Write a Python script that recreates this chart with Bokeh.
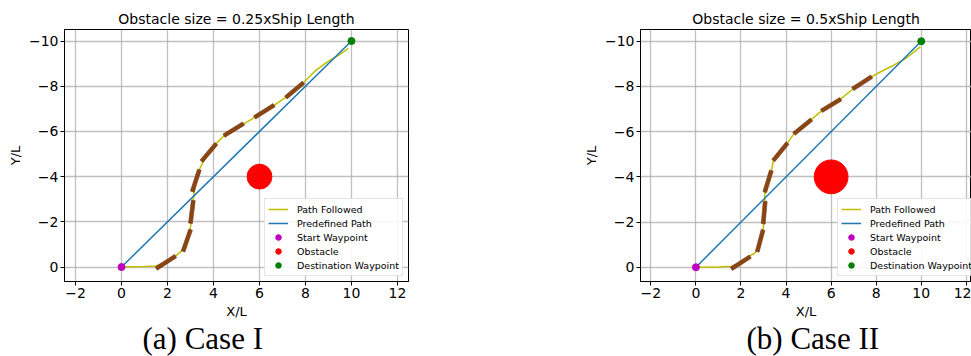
from bokeh.plotting import figure
from bokeh.models import Range1d, FixedTicker, Legend, LegendItem, Title
from bokeh.layouts import row
from bokeh.embed import file_html
from bokeh.resources import INLINE

# ---------------- data ----------------
titles = ["Obstacle size = 0.25xShip Length", "Obstacle size = 0.5xShip Length"]
captions = ["(a) Case I", "(b) Case II"]

x_ticks = [-2, 0, 2, 4, 6, 8, 10, 12]
y_ticks = [0, -2, -4, -6, -8, -10]

start_wp = (0.0, 0.0)
dest_wp = (10.0, -10.0)
obstacle_xy = (6.0, -4.0)
obstacle_radius = [0.54, 0.75]

# predefined path (straight line start -> destination)
pre_x = [0.0, 10.0]
pre_y = [0.0, -10.0]

# Case I : path followed
path1_x = [0, 0.5, 1.0, 1.5, 1.93, 2.35, 2.62, 2.84, 2.98, 3.05, 3.08, 3.12, 3.23, 3.4,
           3.6, 3.8, 4.1, 4.45, 4.88, 5.35, 5.8, 6.21, 6.65, 7.1, 7.53, 7.95, 8.45, 8.95,
           9.45, 9.86]
path1_y = [0, -0.01, -0.02, -0.05, -0.21, -0.48, -0.72, -1.17, -1.65, -2.1, -2.6, -3.0,
           -3.82, -4.35, -4.75, -5.07, -5.45, -5.8, -6.08, -6.36, -6.62, -6.89, -7.16,
           -7.48, -7.83, -8.2, -8.7, -9.08, -9.38, -9.67]
# Case I : ship snapshots (centre, heading in degrees)
ship1_x = [1.93, 2.84, 3.06, 3.23, 3.80, 4.88, 6.21, 7.53]
ship1_y = [-0.21, -1.17, -2.44, -3.82, -5.07, -6.08, -6.89, -7.83]
ship1_heading = [-33, -71, -83, -72, -50, -32, -32, -40]

# Case II : path followed
path2_x = [0, 0.5, 1.0, 1.3, 1.6, 1.99, 2.4, 2.6, 2.73, 2.85, 2.97, 3.01, 3.03, 3.06, 3.06,
           3.2, 3.35, 3.44, 3.75, 4.06, 4.35, 4.74, 5.12, 5.6, 6.0, 6.39, 6.98, 7.38, 7.79,
           8.2, 8.78, 9.37, 9.96]
path2_y = [0, 0, -0.01, -0.03, -0.05, -0.22, -0.5, -0.62, -0.75, -1.17, -1.62, -1.92,
           -2.42, -2.92, -3.32, -3.8, -4.28, -4.73, -5.11, -5.49, -5.91, -6.22, -6.53,
           -6.94, -7.18, -7.42, -7.9, -8.16, -8.42, -8.65, -8.94, -9.28, -9.75]
# Case II : ship snapshots
ship2_x = [1.99, 2.85, 3.03, 3.20, 3.75, 4.74, 6.0, 7.38]
ship2_y = [-0.20, -1.17, -2.42, -3.80, -5.11, -6.22, -7.18, -8.16]
ship2_heading = [-33, -75, -85, -73, -51, -39, -31, -33]

ship_length = 1.0
ship_beam = 0.17

MINUS = "\u2212"


def fmt(v):
    return (MINUS + str(abs(v))) if v < 0 else str(v)


def make_fig(title, caption, path_x, path_y, sx, sy, sh, obs_r,
             width, height, border_left, border_right, border_top, border_bottom,
             xr, yr, legend_loc, caption_offset):
    p = figure(width=width, height=height, output_backend="svg", toolbar_location=None,
               x_range=Range1d(*xr), y_range=Range1d(*yr),
               min_border_left=border_left, min_border_right=border_right,
               min_border_top=border_top, min_border_bottom=border_bottom,
               title=title)
    p.title.text_font = "DejaVu Sans"
    p.title.text_font_size = "14px"
    p.title.text_font_style = "normal"
    p.title.align = "center"
    p.title.text_color = "black"
    p.title.standoff = 5
    p.outline_line_color = "black"
    p.outline_line_width = 1
    p.outline_line_alpha = 1
    p.background_fill_color = "white"
    p.border_fill_color = "white"

    p.xaxis.ticker = FixedTicker(ticks=x_ticks)
    p.yaxis.ticker = FixedTicker(ticks=y_ticks)
    p.xaxis.major_label_overrides = {v: fmt(v) for v in x_ticks}
    p.yaxis.major_label_overrides = {v: fmt(v) for v in y_ticks}
    p.xaxis.axis_label = "X/L"
    p.yaxis.axis_label = "Y/L"
    for ax in (p.xaxis, p.yaxis):
        ax.axis_label_text_font = "DejaVu Sans"
        ax.axis_label_text_font_size = "13px"
        ax.axis_label_text_font_style = "normal"
        ax.axis_label_text_color = "black"
        ax.axis_label_standoff = 3
        ax.major_label_text_font = "DejaVu Sans"
        ax.major_label_text_font_size = "14px"
        ax.major_label_text_color = "black"
        ax.major_label_standoff = 2
        ax.major_tick_out = 4
        ax.major_tick_in = 0
        ax.minor_tick_out = 0
        ax.minor_tick_in = 0
        ax.major_tick_line_color = "black"
        ax.axis_line_color = "black"
    p.yaxis.major_label_orientation = "horizontal"

    p.grid.grid_line_color = "#b0b0b0"
    p.grid.grid_line_width = 1.3
    p.grid.grid_line_alpha = 0.8

    r_path = p.line(path_x, path_y, line_color="#bfbf00", line_width=1.5)
    p.rect(x=sx, y=sy, width=ship_length, height=ship_beam,
           angle=[-h for h in sh], angle_units="deg",
           fill_color="#8b4513", line_color="#6e3510", line_width=0.6)
    r_pre = p.line(pre_x, pre_y, line_color="#1f77b4", line_width=1.5)
    r_start = p.scatter([start_wp[0]], [start_wp[1]], size=7, fill_color="#bf00bf",
                        line_color="#bf00bf")
    r_obs = p.circle([obstacle_xy[0]], [obstacle_xy[1]], radius=obs_r,
                     fill_color="#ff0000", line_color="#ff0000")
    r_dest = p.scatter([dest_wp[0]], [dest_wp[1]], size=7, fill_color="#008000",
                       line_color="#008000")

    legend = Legend(items=[
        LegendItem(label="Path Followed", renderers=[r_path]),
        LegendItem(label="Predefined Path", renderers=[r_pre]),
        LegendItem(label="Start Waypoint", renderers=[r_start]),
        LegendItem(label="Obstacle", renderers=[r_obs]),
        LegendItem(label="Destination Waypoint", renderers=[r_dest]),
    ], location=legend_loc)
    legend.label_text_font = "DejaVu Sans"
    legend.label_text_font_size = "9.5px"
    legend.label_text_color = "black"
    legend.glyph_width = 20
    legend.glyph_height = 14
    legend.label_height = 14
    legend.spacing = 0
    legend.padding = 3
    legend.margin = 0
    legend.label_standoff = 9
    legend.border_line_color = "#cccccc"
    legend.border_line_width = 1
    legend.background_fill_color = "white"
    legend.background_fill_alpha = 0.85
    p.add_layout(legend)

    cap = Title(text=caption, align="left", offset=caption_offset, standoff=-5,
                text_font="Liberation Serif", text_font_size="31px",
                text_font_style="normal", text_color="black")
    p.add_layout(cap, "below")
    return p


H = 356
W1 = 580
W2 = 391

p1 = make_fig(titles[0], captions[0], path1_x, path1_y, ship1_x, ship1_y, ship1_heading,
              obstacle_radius[0], width=W1, height=H, border_left=64,
              border_right=W1 - 64 - 344, border_top=28, border_bottom=H - 28 - 256,
              xr=(-2.48, 12.48), yr=(0.64, -10.51), legend_loc=(200, 5),
              caption_offset=142 - 64)
p2 = make_fig(titles[1], captions[1], path2_x, path2_y, ship2_x, ship2_y, ship2_heading,
              obstacle_radius[1], width=W2, height=H, border_left=59,
              border_right=0, border_top=29, border_bottom=H - 29 - 252,
              xr=(-2.46, 12.23), yr=(0.63, -10.52), legend_loc=(197, 5),
              caption_offset=745 - 639)

layout = row(p1, p2)
open("out.html", "w").write(file_html(layout, INLINE))
